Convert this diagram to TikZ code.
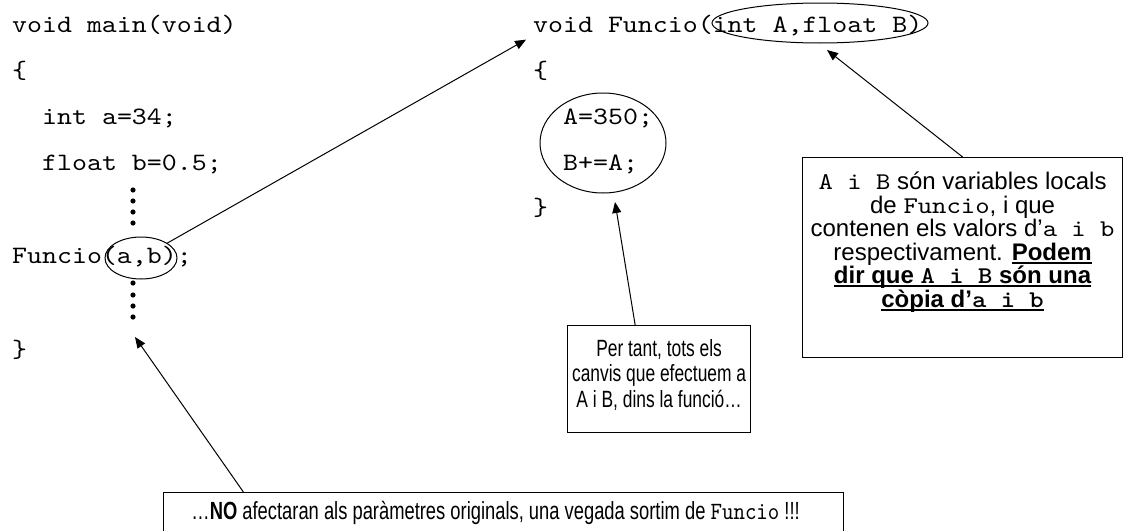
\documentclass[tikz,border=0pt]{standalone}
\usepackage{fontspec}
\setmainfont{Liberation Sans}
\setmonofont{lmmono10-regular.otf}[BoldFont=lmmonolt10-bold.otf,FakeStretch=1.14]
\newfontfamily\narrowsans{Liberation Sans}[FakeStretch=0.74]
\newfontfamily\narrowmono{lmmono10-regular.otf}[FakeStretch=0.88]
\usetikzlibrary{positioning,shapes.geometric,arrows.meta,calc}

\newcommand\codefont{\fontsize{25}{30}\selectfont\ttfamily}
\newcommand\notefont{\fontsize{23.5}{25.5}\selectfont\narrowsans}
\newcommand\bignotefont{\fontsize{24}{23.5}\selectfont}
\newsavebox\ulbox
\newcommand\ubf[1]{\sbox\ulbox{\textbf{#1}}\rlap{\rule[-3.5pt]{\wd\ulbox}{2pt}}\usebox\ulbox}

\begin{document}
\begin{tikzpicture}[x=1pt,y=-1pt,
  code/.style={anchor=base west,inner sep=0pt,font=\codefont},
  oval/.style={ellipse,draw,line width=1pt,inner sep=0pt},
  nota/.style={draw,line width=1.2pt,align=center,inner sep=2pt},
  arr/.style={-{Triangle[length=11pt,width=9pt]},line width=1pt}]
\clip (0,0) rectangle (1132,530);

%main
  \node[code] (mainhdr) at (12,32)  {void main(void)};
  \node[code] (mainopen) at (12,78) {\{};
  \node[code] (decla) at (42,124)   {int a=34;};
  \node[code] (declb) at (42,170)   {float b=0.5;};
  \node[code] (call) at (12,263)    {Funcio(a,b);};
  \node[code] (mainclose) at (12,357) {\}};
  \foreach \y in {190,201,212,223,283,295,306,317}
    \fill (133,\y) circle (2.6);
  \node[oval,minimum width=72,minimum height=42] (argsab) at (141,258) {};

%Funcio
  \node[code] (funhdr) at (533,32)  {void Funcio(int A,float B)};
  \node[code] (funopen) at (533,78) {\{};
  \node[code] (seta) at (563,124)   {A=350;};
  \node[code] (setb) at (563,170)   {B+=A;};
  \node[code] (funclose) at (533,215) {\}};
  \node[oval,minimum width=216,minimum height=40] (params) at (820,23) {};
  \node[oval,minimum width=126,minimum height=100] (cos) at (603,143) {};

%notes
  \node[nota,anchor=north west,minimum width=320,minimum height=200] (locals) at (802,157) {};
  \node[font=\bignotefont,align=center,inner sep=0pt,below=15pt of locals.north] (localstxt)
    {\texttt{A i B} són variables locals\\
     de \texttt{Funcio}, i que\\
     contenen els valors d’\texttt{a i b}\\
     respectivament. \ubf{Podem}\\
     \ubf{dir que \texttt{A i B} són una}\\
     \ubf{còpia d’\texttt{a i b}}};
  \node[nota,font=\notefont,text depth=12pt,anchor=north west,minimum width=183,minimum height=107] (pertant) at (567,325)
    {Per tant, tots els\\canvis que efectuem a\\A i B, dins la funció…};
  \node[nota,font=\fontsize{24.8}{26}\selectfont\narrowsans,anchor=north west,minimum width=680,minimum height=40] (nota) at (163,492)
    {…\textbf{NO} afectaran als paràmetres originals, una vegada sortim de {\narrowmono Funcio} !!!\hspace{16pt}};

  \coordinate (tipmain) at (135,337);
  \coordinate (tipcos) at (615,202);
  \coordinate (tipparams) at (827,50);

%arrows
  \draw[arr,shorten >=8pt] (argsab) -- (funhdr.south west);
  \draw[arr] ($(nota.north west)!0.118!(nota.north east)$) -- (tipmain);
  \draw[arr] ($(pertant.north west)!0.37!(pertant.north east)$) -- (tipcos);
  \draw[arr] (locals.north) -- (tipparams);
\end{tikzpicture}
\end{document}
